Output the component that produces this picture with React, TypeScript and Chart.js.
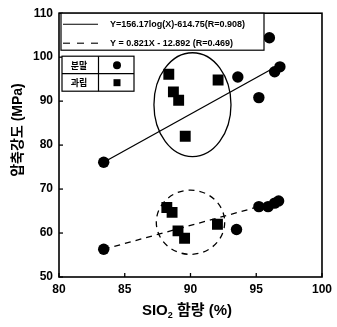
import React, { useEffect, useRef } from "react";
import { Chart, registerables } from "chart.js";

Chart.register(...registerables);

// ---- data ----
const xTicks = [80, 85, 90, 95, 100];
const yTicks = [50, 60, 70, 80, 90, 100, 110];

const powderX = [83.4, 93.5, 95.2, 95.9, 96.4, 96.7, 83.4, 93.6, 95.2, 96.0, 96.4, 96.8];
const powderY = [56.3, 60.8, 66.0, 66.0, 66.8, 67.3, 76.1, 95.5, 90.8, 104.4, 96.7, 97.8];

const granuleX = [88.2, 88.6, 89.05, 89.55, 92.05, 88.35, 88.7, 89.1, 89.6, 92.1];
const granuleY = [65.8, 64.7, 60.5, 58.8, 62.0, 96.1, 92.1, 90.2, 82.0, 94.8];

// fit lines (end points)
const logFitX = [83.4, 96.6];
const logFitY = [76.1, 98.0];
const linFitX = [83.4, 95.2];
const linFitY = [56.3, 66.0];

// group ellipses (centre / radii in data units)
const upperGroup = { cx: 90.15, cy: 89.2, rx: 2.93, ry: 11.8 };
const lowerGroup = { cx: 90.0, cy: 62.45, rx: 2.6, ry: 7.3 };

const legendLabels = ["Y=156.17log(X)-614.75(R=0.908)", "Y = 0.821X - 12.892 (R=0.469)"];
const tableLabels = ["분말", "과립"];
const xTitleMain = "SIO";
const xTitleSub = "2";
const xTitleRest = " 함량 (%)";
const yTitle = "압축강도 (MPa)";

const FONT = "'Liberation Sans', Arial, 'Noto Sans CJK KR', sans-serif";

const pts = (xs: number[], ys: number[]) => xs.map((x, i) => ({ x, y: ys[i] }));

const overlay = {
  id: "overlay",
  afterDatasetsDraw(chart: any) {
    const ctx = chart.ctx as CanvasRenderingContext2D;
    const { left, right, top, bottom } = chart.chartArea;
    const xs = chart.scales.x;
    const ys = chart.scales.y;
    ctx.save();
    ctx.strokeStyle = "#000";
    ctx.fillStyle = "#000";

    // ellipses
    const ell = (g: any, dash: number[]) => {
      const cx = xs.getPixelForValue(g.cx);
      const cy = ys.getPixelForValue(g.cy);
      const rx = Math.abs(xs.getPixelForValue(g.cx + g.rx) - cx);
      const ry = Math.abs(ys.getPixelForValue(g.cy + g.ry) - cy);
      ctx.beginPath();
      ctx.setLineDash(dash);
      ctx.lineWidth = 1.3;
      ctx.ellipse(cx, cy, rx, ry, 0, 0, Math.PI * 2);
      ctx.stroke();
      ctx.setLineDash([]);
    };
    ell(upperGroup, []);
    ell(lowerGroup, [6, 5]);

    // frame
    ctx.lineWidth = 1.6;
    ctx.strokeRect(left, top, right - left, bottom - top);

    // inward ticks
    ctx.lineWidth = 1.3;
    xTicks.forEach((v) => {
      const p = xs.getPixelForValue(v);
      ctx.beginPath();
      ctx.moveTo(p, bottom);
      ctx.lineTo(p, bottom - 4);
      ctx.stroke();
    });
    yTicks.forEach((v) => {
      const p = ys.getPixelForValue(v);
      ctx.beginPath();
      ctx.moveTo(left, p);
      ctx.lineTo(left + 4, p);
      ctx.stroke();
    });

    // fit legend box
    const bx = left + 2;
    const by = top;
    ctx.fillStyle = "#fff";
    ctx.fillRect(bx, by, 203, 37);
    ctx.fillStyle = "#000";
    ctx.lineWidth = 1.2;
    ctx.strokeRect(bx, by, 203, 37);
    ctx.lineWidth = 1.1;
    ctx.beginPath();
    ctx.moveTo(bx + 2, by + 11);
    ctx.lineTo(bx + 37, by + 11);
    ctx.stroke();
    ctx.setLineDash([7, 7]);
    ctx.beginPath();
    ctx.moveTo(bx + 2, by + 30);
    ctx.lineTo(bx + 37, by + 30);
    ctx.stroke();
    ctx.setLineDash([]);
    ctx.font = `bold 9px ${FONT}`;
    ctx.textBaseline = "middle";
    ctx.textAlign = "left";
    ctx.fillText(legendLabels[0], bx + 49, by + 11, 149);
    ctx.fillText(legendLabels[1], bx + 49, by + 30, 136);

    // symbol table
    const tx = left + 3;
    const ty = top + 43;
    ctx.fillStyle = "#fff";
    ctx.fillRect(tx, ty, 72, 35);
    ctx.fillStyle = "#000";
    ctx.lineWidth = 1.2;
    ctx.strokeRect(tx, ty, 72, 35);
    ctx.beginPath();
    ctx.moveTo(tx + 36.5, ty);
    ctx.lineTo(tx + 36.5, ty + 35);
    ctx.moveTo(tx, ty + 17.5);
    ctx.lineTo(tx + 72, ty + 17.5);
    ctx.stroke();
    ctx.font = `bold 9px 'Noto Sans CJK KR', sans-serif`;
    ctx.textAlign = "center";
    ctx.fillText(tableLabels[0], tx + 17, ty + 9);
    ctx.fillText(tableLabels[1], tx + 17, ty + 26.5);
    ctx.beginPath();
    ctx.arc(tx + 55, ty + 9, 4, 0, Math.PI * 2);
    ctx.fill();
    ctx.fillRect(tx + 51.5, ty + 23, 7, 7);

    // axis titles
    const big = `bold 15px ${FONT}`;
    const small = `bold 9px ${FONT}`;
    ctx.font = big;
    const w1 = ctx.measureText(xTitleMain).width;
    const w3 = ctx.measureText(xTitleRest).width;
    ctx.font = small;
    const w2 = ctx.measureText(xTitleSub).width;
    const total = w1 + w2 + w3;
    const sx = Math.min(1, 92 / total);
    const yT = 311;
    ctx.save();
    ctx.translate(187 - (total * sx) / 2, yT);
    ctx.scale(sx, 1);
    ctx.textAlign = "left";
    ctx.textBaseline = "middle";
    ctx.font = big;
    ctx.fillText(xTitleMain, 0, 0);
    ctx.font = small;
    ctx.fillText(xTitleSub, w1, 5);
    ctx.font = big;
    ctx.fillText(xTitleRest, w1 + w2, 0);
    ctx.restore();

    ctx.save();
    ctx.translate(18, 130);
    ctx.rotate(-Math.PI / 2);
    ctx.textAlign = "center";
    ctx.textBaseline = "middle";
    ctx.font = `bold 14px ${FONT}`;
    ctx.fillText(yTitle, 0, 0, 94);
    ctx.restore();

    ctx.restore();
  },
};

export default function App() {
  const ref = useRef<HTMLCanvasElement>(null);
  useEffect(() => {
    document.body.style.margin = "0";
    const chart = new Chart(ref.current as HTMLCanvasElement, {
      type: "scatter",
      data: {
        datasets: [
          {
            label: "log fit",
            data: pts(logFitX, logFitY),
            showLine: true,
            borderColor: "#000",
            borderWidth: 1.3,
            pointRadius: 0,
            pointHoverRadius: 0,
          } as any,
          {
            label: "linear fit",
            data: pts(linFitX, linFitY),
            showLine: true,
            borderColor: "#000",
            borderWidth: 1.3,
            borderDash: [6, 5],
            pointRadius: 0,
            pointHoverRadius: 0,
          } as any,
          {
            label: "분말",
            data: pts(powderX, powderY),
            pointStyle: "circle",
            pointRadius: 5.7,
            backgroundColor: "#000",
            borderColor: "#000",
            borderWidth: 0,
          },
          {
            label: "과립",
            data: pts(granuleX, granuleY),
            pointStyle: "rect",
            pointRadius: 7.7,
            backgroundColor: "#000",
            borderColor: "#000",
            borderWidth: 0,
          },
        ],
      },
      options: {
        responsive: false,
        animation: false,
        layout: { padding: { top: 13, right: 13, left: 0, bottom: 0 } },
        plugins: { legend: { display: false }, tooltip: { enabled: false } },
        scales: {
          x: {
            type: "linear",
            min: 80,
            max: 100,
            afterBuildTicks: (s: any) => {
              s.ticks = xTicks.map((v) => ({ value: v }));
            },
            ticks: {
              color: "#000",
              font: { family: FONT, size: 12, weight: "bold" },
              padding: 5,
              maxRotation: 0,
            },
            grid: { display: false, drawTicks: false },
            border: { display: false },
            afterFit: (s: any) => {
              s.height = 50;
            },
          },
          y: {
            type: "linear",
            min: 50,
            max: 110,
            afterBuildTicks: (s: any) => {
              s.ticks = yTicks.map((v) => ({ value: v }));
            },
            ticks: {
              color: "#000",
              font: { family: FONT, size: 12, weight: "bold" },
              padding: 6,
            },
            grid: { display: false, drawTicks: false },
            border: { display: false },
            afterFit: (s: any) => {
              s.width = 59;
            },
          },
        },
      },
      plugins: [overlay],
    });
    return () => chart.destroy();
  }, []);
  return (
    <div style={{ width: 337, height: 327, background: "#fff" }}>
      <canvas ref={ref} width={337} height={327} style={{ display: "block" }} />
    </div>
  );
}
